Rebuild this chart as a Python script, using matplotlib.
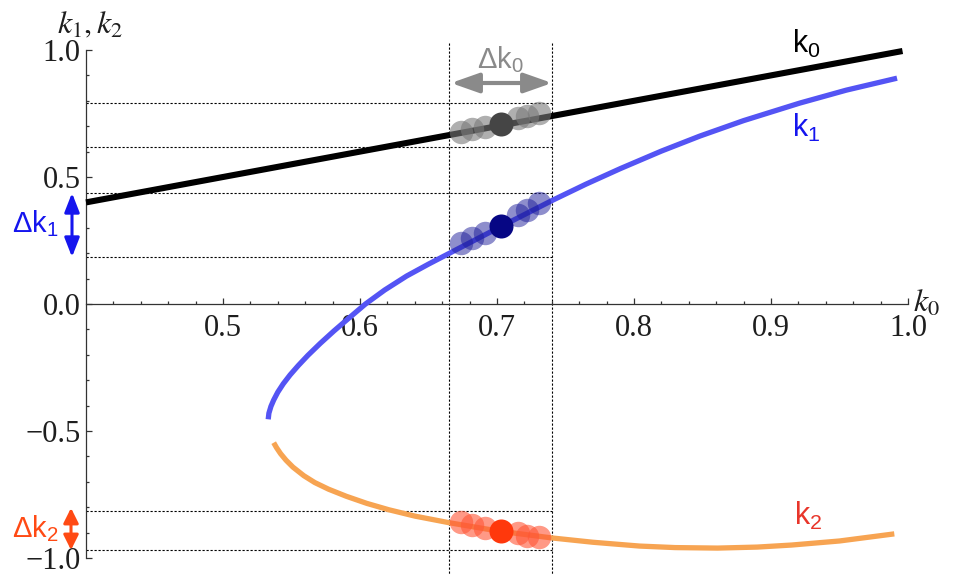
import matplotlib
matplotlib.use("Agg")
import matplotlib.pyplot as plt
from matplotlib.patches import FancyArrowPatch
from matplotlib.ticker import FixedLocator, FixedFormatter

# ---------------- data ----------------
k0_x = [0.4, 0.996]
k0_y = [0.4, 0.996]

k1_x = [0.533, 0.5335, 0.535, 0.537, 0.540, 0.544, 0.549, 0.555, 0.562, 0.571,
        0.581, 0.592, 0.604, 0.618, 0.634, 0.650, 0.665, 0.680, 0.700, 0.720,
        0.740, 0.765, 0.790, 0.820, 0.848, 0.880, 0.921, 0.955, 0.992]
k1_y = [-0.454, -0.430, -0.403, -0.378, -0.347, -0.314, -0.279, -0.242, -0.202, -0.155,
        -0.106, -0.055, 0.000, 0.055, 0.110, 0.157, 0.199, 0.241, 0.297, 0.352,
        0.407, 0.472, 0.533, 0.602, 0.661, 0.722, 0.791, 0.842, 0.889]

k2_x = [0.537, 0.539, 0.542, 0.546, 0.551, 0.559, 0.567, 0.577, 0.590, 0.605,
        0.621, 0.640, 0.665, 0.700, 0.740, 0.770, 0.804, 0.830, 0.861, 0.890,
        0.915, 0.950, 0.990]
k2_y = [-0.546, -0.565, -0.589, -0.615, -0.642, -0.676, -0.703, -0.729, -0.757, -0.785,
        -0.810, -0.835, -0.861, -0.893, -0.921, -0.938, -0.953, -0.959, -0.961, -0.957,
        -0.949, -0.933, -0.905]

# sample points around the working point
dot_k0 = [0.674, 0.682, 0.691, 0.715, 0.722, 0.731]
dot_on_k0 = [0.678, 0.688, 0.698, 0.731, 0.740, 0.753]
dot_on_k1 = [0.239, 0.259, 0.278, 0.350, 0.370, 0.399]
dot_on_k2 = [-0.857, -0.870, -0.883, -0.903, -0.912, -0.916]
center_k0 = 0.703
center_on_k0 = 0.709
center_on_k1 = 0.308
center_on_k2 = -0.892

# guide lines bounding the spreads
band_k0_x = [0.665, 0.740]
band_k0 = [0.618, 0.791]
band_k1 = [0.185, 0.437]
band_k2 = [-0.969, -0.814]

xticks_major = [0.5, 0.6, 0.7, 0.8, 0.9, 1.0]
xtick_labels = ["0.5", "0.6", "0.7", "0.8", "0.9", "1.0"]
yticks_major = [-1.0, -0.5, 0.0, 0.5, 1.0]
ytick_labels = ["\u22121.0", "\u22120.5", "0.0", "0.5", "1.0"]
xticks_minor = [0.42, 0.44, 0.46, 0.48, 0.52, 0.54, 0.56, 0.58, 0.62, 0.64, 0.66, 0.68,
                0.72, 0.74, 0.76, 0.78, 0.82, 0.84, 0.86, 0.88, 0.92, 0.94, 0.96, 0.98]
yticks_minor = [-0.9, -0.8, -0.7, -0.6, -0.4, -0.3, -0.2, -0.1,
                0.1, 0.2, 0.3, 0.4, 0.6, 0.7, 0.8, 0.9]

# ---------------- style ----------------
plt.rcParams["mathtext.rm"] = "Liberation Sans"
plt.rcParams["mathtext.it"] = "Liberation Sans:italic"
plt.rcParams["mathtext.sf"] = "Liberation Sans"
plt.rcParams["mathtext.bf"] = "Liberation Sans:bold"

W, H = 954, 574
fig = plt.figure(figsize=(W / 100, H / 100), dpi=100)
ax = fig.add_axes([0, 0, 1, 1])
ax.patch.set_alpha(0)

PX = 1370.0   # pixels per unit in x
PY = 254.0    # pixels per unit in y
X0 = 0.4 - 86 / PX
ax.set_xlim(X0, X0 + W / PX)
ax.set_ylim(-(H - 304) / PY, 304 / PY)


def P(x, y):
    """pixel position -> axes data position (layout helper)"""
    return X0 + x / PX, (304 - y) / PY


# spines as crossing axes
for s in ["top", "right"]:
    ax.spines[s].set_visible(False)
ax.spines["left"].set_position(("data", 0.4))
ax.spines["bottom"].set_position(("data", 0.0))
ax.spines["left"].set_bounds(-1.0, 1.0)
ax.spines["bottom"].set_bounds(0.4, 1.0)
for s in ["left", "bottom"]:
    ax.spines[s].set_linewidth(0.9)
    ax.spines[s].set_color("#333333")

ax.xaxis.set_major_locator(FixedLocator(xticks_major))
ax.xaxis.set_major_formatter(FixedFormatter(xtick_labels))
ax.xaxis.set_minor_locator(FixedLocator(xticks_minor))
ax.yaxis.set_major_locator(FixedLocator(yticks_major))
ax.yaxis.set_major_formatter(FixedFormatter(ytick_labels))
ax.yaxis.set_minor_locator(FixedLocator(yticks_minor))
ax.tick_params(which="both", direction="in", color="#333333", width=0.9,
               labelsize=22, labelfontfamily="Liberation Serif", labelcolor="#1e1e1e")
ax.tick_params(which="major", length=4)
ax.tick_params(which="minor", length=2.5)
ax.tick_params(axis="x", which="major", pad=7)
ax.tick_params(axis="y", which="major", pad=4)

# dotted guide lines
dot_style = dict(color="black", lw=0.8, ls=(0, (2.0, 1.6)), zorder=1)
for xv in band_k0_x:
    ax.plot([xv, xv], [1.028, -1.1], **dot_style, clip_on=False)
for yv in band_k0 + band_k1 + band_k2:
    ax.plot([0.4, band_k0_x[1]], [yv, yv], **dot_style)

# curves
ax.plot(k0_x, k0_y, color="black", lw=4.4, solid_capstyle="butt", zorder=3)
ax.plot(k1_x, k1_y, color="#5454f4", lw=3.8, solid_capstyle="butt",
        solid_joinstyle="round", zorder=3)
ax.plot(k2_x, k2_y, color="#f7a452", lw=3.8, solid_capstyle="butt",
        solid_joinstyle="round", zorder=3)

# sample dots
S = 285
ax.scatter(dot_k0, dot_on_k0, s=S, color="#7a7a7a", alpha=0.6, lw=0, zorder=4)
ax.scatter([center_k0], [center_on_k0], s=S * 1.05, color="#454545", lw=0, zorder=5)
ax.scatter(dot_k0, dot_on_k1, s=S, color="#1e1e9a", alpha=0.5, lw=0, zorder=4)
ax.scatter([center_k0], [center_on_k1], s=S * 1.05, color="#060684", lw=0, zorder=5)
ax.scatter(dot_k0, dot_on_k2, s=S, color="#ff5535", alpha=0.6, lw=0, zorder=4)
ax.scatter([center_k0], [center_on_k2], s=S * 1.05, color="#ff380c", lw=0, zorder=5)

# arrows
def arrow(p0, p1, color, hl, hw, lw):
    a = FancyArrowPatch(p0, p1, arrowstyle=f"<|-|>,head_length={hl},head_width={hw}",
                        mutation_scale=10, lw=lw, color=color, shrinkA=0, shrinkB=0,
                        zorder=6, clip_on=False)
    ax.add_patch(a)

arrow(P(451, 83), P(552, 83), "#8a8a8a", 1.7, 0.6, 3.0)
arrow(P(72, 193), P(72, 257), "#1515ee", 1.15, 0.45, 2.2)
arrow(P(71, 508), P(71, 550), "#ff4a14", 0.9, 0.45, 2.2)

# annotation texts
def label(px, py, s, color, size=21):
    x, y = P(px, py)
    ax.text(x, y, s, color=color, fontsize=size, ha="left", va="baseline",
            math_fontfamily="custom", zorder=7)

label(477, 68, "$\\mathrm{\u0394k_0}$", "#8a8a8a")
label(12, 232, "$\\mathrm{\u0394k_1}$", "#1515ee")
label(12, 537, "$\\mathrm{\u0394k_2}$", "#ff4a14")
label(792, 53, "$\\mathrm{k_0}$", "black", 22)
label(792, 137, "$\\mathrm{k_1}$", "#1515ee", 22)
label(794, 525, "$\\mathrm{k_2}$", "#e8352a", 22)

# axis labels (italic serif)
x, y = P(57, 33)
ax.text(x, y, "$k_1,k_2$", fontsize=23, ha="left", va="baseline",
        math_fontfamily="stix", color="#1e1e1e")
x, y = P(913, 312)
ax.text(x, y, "$k_0$", fontsize=23, ha="left", va="baseline",
        math_fontfamily="stix", color="#1e1e1e")

fig.savefig("out.png", dpi=100)
